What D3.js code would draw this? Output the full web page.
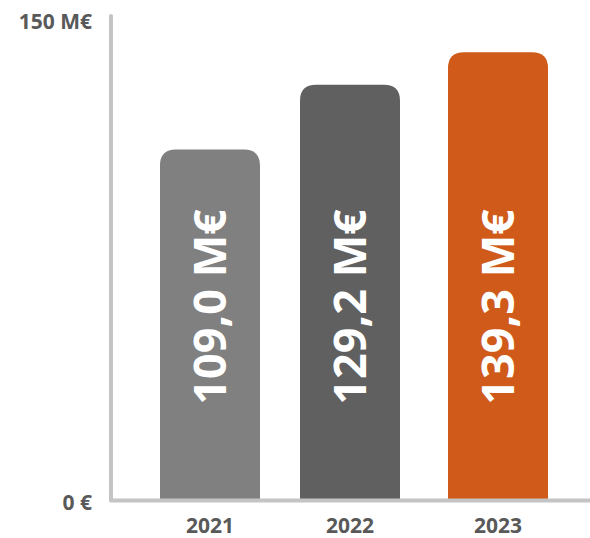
<!DOCTYPE html>
<html><head><meta charset="utf-8">
<script src="https://cdn.jsdelivr.net/npm/d3@7/dist/d3.min.js"></script>
<style>html,body{margin:0;padding:0;background:#fff;}svg{display:block;}</style>
</head><body>
<svg id="chart" width="590" height="538"></svg>
<script>
const categories = ["2021", "2022", "2023"];
const values = [109.0, 129.2, 139.3];
const valueLabels = ["109,0 M€", "129,2 M€", "139,3 M€"];
const colors = ["#808080", "#606060", "#CF5A1A"];
const yTicks = [0, 150];
const yTickLabels = ["0 €", "150 M€"];

const svg = d3.select("#chart");
const font = "'Open Sans', sans-serif";
const y = d3.scaleLinear().domain([0, 150]).range([499, 18]);
const xPos = d3.scaleOrdinal().domain(categories).range([160, 300, 448]);
const bw = 100, r = 16;

function topRounded(x0, y0, w, h, rr) {
  return `M${x0},${y0+h}V${y0+rr}Q${x0},${y0} ${x0+rr},${y0}H${x0+w-rr}Q${x0+w},${y0} ${x0+w},${y0+rr}V${y0+h}Z`;
}

svg.selectAll("path.bar").data(values).enter().append("path")
  .attr("class", "bar")
  .attr("d", (d, i) => topRounded(xPos(categories[i]), y(d), bw, y(0) - y(d), r))
  .attr("fill", (d, i) => colors[i]);

// axes
svg.append("path")
  .attr("d", `M111,16V500.5H590`)
  .attr("fill", "none").attr("stroke", "#c4c4c4").attr("stroke-width", 4)
  .attr("stroke-linecap", "round").attr("stroke-linejoin", "round");

// y tick labels
svg.selectAll("text.ytick").data(yTicks).enter().append("text")
  .attr("x", 92).attr("y", d => d === 0 ? 510 : 29)
  .attr("text-anchor", "end")
  .attr("font-family", font).attr("font-weight", 700).attr("font-size", 21)
  .attr("fill", "#595959")
  .text((d, i) => yTickLabels[i]);

// x labels
svg.selectAll("text.xlab").data(categories).enter().append("text")
  .attr("x", d => xPos(d) + bw / 2).attr("y", 533)
  .attr("text-anchor", "middle")
  .attr("font-family", font).attr("font-weight", 700).attr("font-size", 21)
  .attr("fill", "#595959")
  .text(d => d);

// value labels rotated
svg.selectAll("text.vlab").data(valueLabels).enter().append("text")
  .attr("transform", (d, i) => `translate(${xPos(categories[i]) + bw / 2 + 16},307) rotate(-90)`)
  .attr("text-anchor", "middle")
  .attr("font-family", font).attr("font-weight", 700).attr("font-size", 45)
  .attr("fill", "#ffffff")
  .text(d => d);
</script>
</body></html>
